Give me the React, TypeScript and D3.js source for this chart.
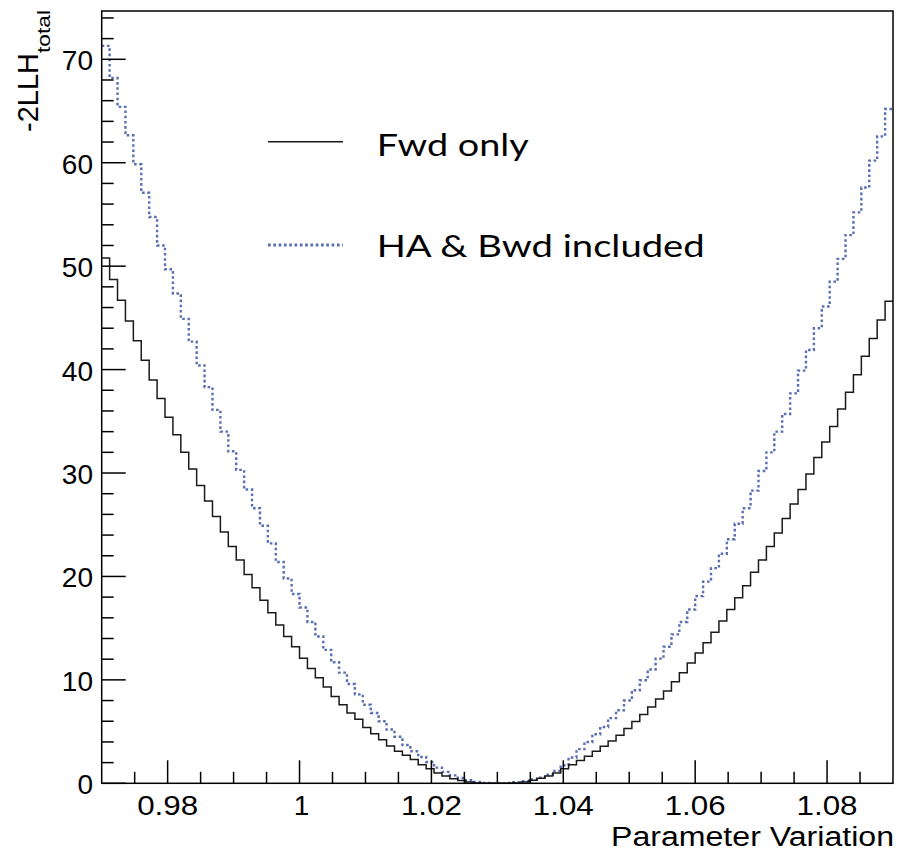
import React from "react";
import * as d3 from "d3";

// Histogram binning: 100 bins from 0.97 to 1.09
const binLow = 0.97;
const binHigh = 1.09;

// -2LLH values, "Fwd only" (black solid)
const fwdOnly = [
  50.8, 48.7, 46.7, 44.7, 42.8, 40.9, 39.0, 37.2, 35.4, 33.7,
  32.0, 30.4, 28.8, 27.3, 25.8, 24.3, 22.9, 21.6, 20.2, 18.9,
  17.7, 16.5, 15.3, 14.2, 13.2, 12.1, 11.1, 10.2, 9.3, 8.4,
  7.6, 6.8, 6.2, 5.4, 4.8, 4.2, 3.6, 3.1, 2.7, 2.3,
  1.8, 1.4, 1.0, 0.7, 0.45, 0.26, 0.13, 0.03, 0.0, 0.0,
  0.0, 0.0, 0.03, 0.13, 0.29, 0.48, 0.71, 1.0, 1.4, 1.8,
  2.2, 2.61, 3.09, 3.58, 4.09, 4.64, 5.29, 5.97, 6.64, 7.38,
  8.15, 8.92, 9.83, 10.7, 11.63, 12.6, 13.6, 14.6, 15.7, 16.8,
  17.95, 19.1, 20.4, 21.6, 22.9, 24.2, 25.6, 27.0, 28.4, 29.9,
  31.5, 33.0, 34.5, 36.2, 37.8, 39.5, 41.3, 43.0, 44.8, 46.6,
];

// -2LLH values, "HA & Bwd included" (blue dotted)
const haBwd = [
  71.3, 68.2, 65.4, 62.65, 59.85, 57.1, 54.75, 52.0, 49.7, 47.35,
  44.9, 42.7, 40.4, 38.3, 36.1, 34.0, 32.1, 30.3, 28.4, 26.6,
  24.9, 23.2, 21.4, 19.8, 18.3, 17.0, 15.6, 14.2, 12.9, 11.7,
  10.7, 9.6, 8.6, 7.6, 6.8, 6.0, 5.2, 4.5, 3.7, 3.1,
  2.55, 2.06, 1.52, 1.1, 0.77, 0.51, 0.29, 0.13, 0.04, 0.0,
  0.0, 0.04, 0.1, 0.2, 0.37, 0.55, 0.83, 1.2, 1.75, 2.5,
  3.3, 4.0, 4.74, 5.45, 6.3, 7.06, 8.0, 9.0, 9.96, 11.0,
  12.05, 13.2, 14.4, 15.6, 16.8, 18.1, 19.5, 20.8, 22.2, 23.6,
  25.1, 26.6, 28.3, 30.2, 32.0, 34.0, 35.7, 37.7, 39.9, 41.9,
  44.0, 46.1, 48.5, 50.7, 53.0, 55.2, 57.6, 60.2, 62.55, 65.2,
];

const xMajorTicks = [0.98, 1.0, 1.02, 1.04, 1.06, 1.08];
const xTickLabels = ["0.98", "1", "1.02", "1.04", "1.06", "1.08"];
const yMajorTicks = [0, 10, 20, 30, 40, 50, 60, 70];
const yTickLabels = ["0", "10", "20", "30", "40", "50", "60", "70"];
const yMax = 74.67;

const legendLabels = ["Fwd only", "HA & Bwd included"];

const W = 897;
const H = 853;
const L = 101.7;
const R = 893;
const T = 11;
const B = 783.3;

const BLUE = "#5b6db3";
const HELV = "'Liberation Sans', Arial, Helvetica, sans-serif";

export default function App() {
  const x = d3.scaleLinear().domain([binLow, binHigh]).range([L, R]);
  const y = d3.scaleLinear().domain([0, yMax]).range([B, T]);
  const nBins = fwdOnly.length;
  const bw = (binHigh - binLow) / nBins;

  const stepPath = (vals: number[]) => {
    const pts: [number, number][] = vals.map((v, i) => [binLow + i * bw, v]);
    pts.push([binHigh, vals[vals.length - 1]]);
    const line = d3
      .line<[number, number]>()
      .x((d) => x(d[0]))
      .y((d) => y(d[1]))
      .curve(d3.curveStepAfter);
    return line(pts) || "";
  };

  const xMinor = d3.range(0, 25).map((i) => binLow + i * 0.005).filter(
    (v) => !xMajorTicks.some((m) => Math.abs(m - v) < 1e-6) && v > binLow + 1e-6 && v < binHigh - 1e-6
  );
  const yMinor = d3.range(1, 38).map((i) => i * 2).filter((v) => v % 10 !== 0 && v < yMax);

  return (
    <svg
      width={W}
      height={H}
      viewBox={`0 0 ${W} ${H}`}
      style={{ position: "absolute", left: 0, top: 0, background: "#fff" }}
    >
      <rect x={0} y={0} width={W} height={H} fill="#fff" />
      <defs>
        <clipPath id="plotclip">
          <rect x={L} y={T} width={R - L} height={B - T} />
        </clipPath>
      </defs>

      {/* histograms */}
      <g clipPath="url(#plotclip)">
        <path d={stepPath(haBwd)} fill="none" stroke={BLUE} strokeWidth={2.4} strokeDasharray="2.6,2.6" />
        <path d={stepPath(fwdOnly)} fill="none" stroke="#1a1a1a" strokeWidth={1.5} />
      </g>

      {/* frame */}
      <rect x={L} y={T} width={R - L} height={B - T} fill="none" stroke="#000" strokeWidth={1.5} />

      {/* x ticks */}
      {xMajorTicks.map((t) => (
        <line key={"xM" + t} x1={x(t)} x2={x(t)} y1={B} y2={B - 23} stroke="#000" strokeWidth={1.5} />
      ))}
      {xMinor.map((t) => (
        <line key={"xm" + t} x1={x(t)} x2={x(t)} y1={B} y2={B - 11.5} stroke="#000" strokeWidth={1.5} />
      ))}
      {xMajorTicks.map((t, i) => (
        <text
          key={"xl" + t}
          x={x(t) + (xTickLabels[i] === "1" ? 2 : 0)}
          y={815}
          fontFamily={HELV}
          fontSize={28}
          textAnchor="middle"
          fill="#000"
          textLength={xTickLabels[i].length > 1 ? 61 : undefined}
          lengthAdjust="spacingAndGlyphs"
        >
          {xTickLabels[i]}
        </text>
      ))}

      {/* y ticks */}
      {yMajorTicks.map((t) => (
        <line key={"yM" + t} x1={L} x2={L + 24} y1={y(t)} y2={y(t)} stroke="#000" strokeWidth={1.5} />
      ))}
      {yMinor.map((t) => (
        <line key={"ym" + t} x1={L} x2={L + 12} y1={y(t)} y2={y(t)} stroke="#000" strokeWidth={1.5} />
      ))}
      {yMajorTicks.map((t, i) => (
        <text
          key={"yl" + t}
          x={93}
          y={y(t) + 11}
          fontFamily={HELV}
          fontSize={28}
          textAnchor="end"
          fill="#000"
        >
          {yTickLabels[i]}
        </text>
      ))}

      {/* axis titles */}
      <text
        x={894}
        y={846}
        fontFamily={HELV}
        fontSize={27}
        textAnchor="end"
        fill="#000"
        textLength={283}
        lengthAdjust="spacingAndGlyphs"
      >
        Parameter Variation
      </text>
      <text
        transform="translate(38,53) rotate(-90)"
        fontFamily={HELV}
        fontSize={29}
        textAnchor="end"
        fill="#000"
      >
        -2LLH
      </text>
      <text
        transform="translate(50,53) rotate(-90)"
        fontFamily={HELV}
        fontSize={19}
        textAnchor="start"
        fill="#000"
        textLength={43}
        lengthAdjust="spacingAndGlyphs"
      >
        total
      </text>

      {/* legend */}
      <line x1={268} x2={343} y1={141.7} y2={141.7} stroke="#1a1a1a" strokeWidth={1.5} />
      <line x1={268} x2={343} y1={245} y2={245} stroke={BLUE} strokeWidth={3} strokeDasharray="2.7,2.6" />
      <text
        x={376.7}
        y={155.5}
        fontFamily="Lato, 'Open Sans', sans-serif"
        fontSize={30}
        fill="#000"
        textLength={152}
        lengthAdjust="spacingAndGlyphs"
      >
        {legendLabels[0]}
      </text>
      <text
        x={376.7}
        y={256.7}
        fontFamily="Lato, 'Open Sans', sans-serif"
        fontSize={30}
        fill="#000"
        textLength={328}
        lengthAdjust="spacingAndGlyphs"
      >
        {legendLabels[1]}
      </text>
    </svg>
  );
}
